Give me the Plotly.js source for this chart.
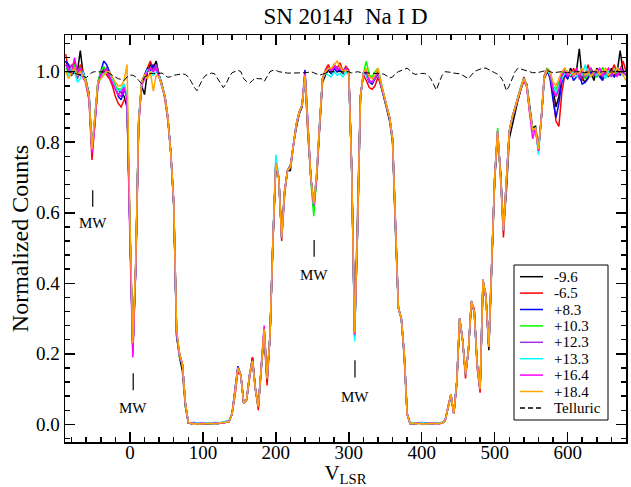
<!DOCTYPE html>
<html><head><meta charset="utf-8">
<script src="https://cdn.plot.ly/plotly-3.0.1.min.js"></script>
<style>html,body{margin:0;padding:0;background:#fff;}#chart{width:631px;height:487px;}</style>
</head><body><div id="chart"></div>
<script>
// Velocity grid (km/s, LSR)
const velocity = [-88,-84,-80,-76,-72,-68,-64,-60,-56,-52,-48,-44,-40,-36,-32,-28,-24,-20,-16,-12,-8,-4,0,4,8,12,16,20,24,28,32,36,40,44,48,52,56,60,64,68,72,76,80,84,88,92,96,100,104,108,112,116,120,124,128,132,136,140,144,148,152,156,160,164,168,172,176,180,184,188,192,196,200,204,208,212,216,220,224,228,232,236,240,244,248,252,256,260,264,268,272,276,280,284,288,292,296,300,304,308,312,316,320,324,328,332,336,340,344,348,352,356,360,364,368,372,376,380,384,388,392,396,400,404,408,412,416,420,424,428,432,436,440,444,448,452,456,460,464,468,472,476,480,484,488,492,496,500,504,508,512,516,520,524,528,532,536,540,544,548,552,556,560,564,568,572,576,580,584,588,592,596,600,604,608,612,616,620,624,628,632,636,640,644,648,652,656,660,664,668,672,676,680];

const epochs = ["-9.6","-6.5","+8.3","+10.3","+12.3","+13.3","+16.4","+18.4"];
const colors = ["#000000","#ff0000","#0000ff","#00ff00","#a030e0","#00ffff","#ff00ff","#ffa500"];

const spec_m9_6 = [1.03,1.01,0.99,1.00,1.00,1.06,0.99,0.975,0.93,0.78,0.87,0.965,0.99,1.01,1.00,0.985,0.97,0.955,0.95,0.94,0.93,0.90,
0.54,0.21,0.46,0.86,0.96,0.935,1.00,1.02,1.01,1.03,0.99,0.96,0.93,0.87,0.77,0.62,0.25,0.19,0.15,0.05,0.004,
0.003,0.005,0.002,0.004,0.001,0.003,0.002,0.004,0.003,0.005,0.004,0.006,0.008,0.010,
0.03,0.09,0.16,0.14,0.06,0.07,0.14,0.19,0.10,0.05,0.15,0.26,0.12,0.25,0.52,0.73,0.70,0.54,0.66,0.72,0.72,0.79,0.84,0.88,0.90,0.99,0.83,0.70,0.61,0.70,0.84,0.97,0.99,1.005,0.995,1.01,1.00,1.005,0.995,1.01,0.995,
0.73,0.26,0.56,0.93,0.99,0.995,0.975,0.965,0.98,0.995,0.96,0.93,0.895,0.86,0.80,0.55,0.33,0.30,0.19,0.03,
0.002,0.004,0.003,0.005,0.002,0.003,0.004,0.002,0.003,0.004,0.003,0.005,0.012,
0.05,0.08,0.03,0.12,0.30,0.24,0.14,0.21,0.34,0.32,0.17,0.10,0.40,0.36,0.21,0.46,0.69,0.82,0.72,0.56,0.66,0.81,0.85,0.88,0.92,0.95,0.975,0.965,0.90,0.84,0.845,0.78,0.87,0.98,1.00,
0.99,0.95,0.90,0.93,0.99,1.00,0.98,1.01,0.99,1.00,1.065,0.98,0.97,0.985,1.00,0.975,1.01,0.99,0.98,1.00,0.985,1.01,0.99,1.00,1.06,1.00,0.99];

const spec_m6_5 = [1.05,1.00,1.01,1.03,0.98,1.02,1.00,0.96,0.92,0.75,0.85,0.96,1.00,1.01,0.99,0.98,0.96,0.93,0.91,0.90,0.92,0.92,
0.56,0.22,0.44,0.85,0.97,0.99,1.01,1.03,1.005,1.02,0.99,0.965,0.92,0.86,0.77,0.63,0.26,0.20,0.17,0.06,0.005,
0.002,0.003,0.004,0.002,0.003,0.001,0.002,0.003,0.002,0.004,0.003,0.005,0.006,0.009,
0.03,0.08,0.15,0.14,0.06,0.07,0.13,0.19,0.10,0.04,0.16,0.26,0.11,0.25,0.51,0.74,0.70,0.52,0.65,0.72,0.73,0.79,0.85,0.885,0.905,0.985,0.82,0.70,0.62,0.70,0.85,0.98,1.005,1.02,1.00,1.02,1.01,1.025,1.00,1.015,1.005,
0.72,0.26,0.55,0.93,0.99,0.975,0.955,0.95,0.96,0.985,0.96,0.935,0.90,0.87,0.81,0.56,0.33,0.30,0.20,0.03,
0.003,0.002,0.004,0.003,0.006,0.002,0.003,0.002,0.004,0.003,0.002,0.004,0.010,
0.05,0.085,0.03,0.11,0.29,0.24,0.13,0.21,0.34,0.33,0.16,0.09,0.40,0.37,0.22,0.46,0.70,0.82,0.71,0.53,0.67,0.83,0.87,0.90,0.92,0.955,0.985,0.96,0.885,0.84,0.835,0.78,0.87,0.99,1.01,
0.98,0.93,0.86,0.845,0.94,0.99,1.00,0.985,1.01,0.99,1.00,0.975,0.99,1.02,0.99,1.00,0.985,1.00,1.01,0.99,0.995,1.00,1.02,0.99,1.005,1.03,1.00];

const spec_p8_3 = [1.03,1.02,1.00,1.01,1.00,0.99,1.00,0.97,0.94,0.78,0.86,0.97,1.00,1.03,1.02,1.00,0.98,0.96,0.93,0.92,0.95,0.93,
0.55,0.21,0.45,0.86,0.97,0.99,1.01,1.00,1.02,1.005,0.99,0.96,0.93,0.87,0.77,0.63,0.25,0.20,0.17,0.06,0.004,
0.002,0.004,0.003,0.002,0.003,0.002,0.004,0.002,0.003,0.002,0.004,0.003,0.007,0.008,
0.03,0.09,0.165,0.14,0.06,0.07,0.14,0.18,0.10,0.05,0.16,0.27,0.13,0.25,0.52,0.745,0.70,0.53,0.66,0.72,0.735,0.79,0.85,0.885,0.905,1.005,0.83,0.70,0.62,0.71,0.85,0.98,1.00,1.01,0.995,1.01,1.00,1.005,1.00,1.01,0.995,
0.72,0.25,0.55,0.93,0.995,0.99,0.97,0.965,0.985,1.00,0.965,0.935,0.90,0.87,0.81,0.56,0.33,0.30,0.20,0.03,
0.002,0.003,0.002,0.004,0.003,0.002,0.003,0.004,0.002,0.003,0.004,0.003,0.010,
0.05,0.085,0.03,0.12,0.30,0.24,0.14,0.21,0.35,0.32,0.17,0.10,0.41,0.36,0.22,0.47,0.70,0.83,0.71,0.55,0.68,0.83,0.87,0.90,0.925,0.955,0.98,0.96,0.89,0.835,0.84,0.775,0.87,0.985,1.005,
0.98,0.92,0.87,0.91,0.97,0.99,0.98,1.00,0.975,0.985,0.99,0.965,0.97,0.98,1.00,0.99,1.00,0.985,0.975,1.00,0.99,0.995,0.985,1.00,0.99,1.005,0.99];

const spec_p10_3 = [1.01,1.00,0.99,1.02,1.00,1.01,0.99,0.975,0.93,0.78,0.87,0.97,1.00,1.015,1.00,0.99,0.98,0.96,0.95,0.95,0.965,0.93,
0.55,0.21,0.45,0.86,0.965,0.985,1.005,1.01,1.00,1.01,0.99,0.96,0.93,0.87,0.77,0.63,0.26,0.19,0.17,0.06,0.005,
0.003,0.002,0.003,0.001,0.002,0.003,0.002,0.001,0.003,0.002,0.003,0.004,0.006,0.008,
0.03,0.09,0.16,0.14,0.06,0.07,0.14,0.18,0.10,0.05,0.16,0.27,0.13,0.25,0.52,0.74,0.70,0.53,0.66,0.72,0.73,0.79,0.85,0.885,0.905,0.99,0.83,0.69,0.59,0.70,0.85,0.98,1.00,1.01,1.00,1.015,1.005,1.01,1.00,1.01,1.00,
0.72,0.25,0.55,0.93,0.995,1.03,0.99,0.985,1.00,1.01,0.97,0.935,0.90,0.87,0.81,0.56,0.33,0.30,0.20,0.03,
0.002,0.002,0.003,0.002,0.003,0.002,0.002,0.003,0.002,0.002,0.003,0.004,0.009,
0.05,0.085,0.03,0.12,0.30,0.24,0.14,0.21,0.35,0.32,0.17,0.10,0.41,0.36,0.22,0.47,0.70,0.84,0.71,0.55,0.68,0.83,0.87,0.90,0.93,0.96,0.98,0.96,0.89,0.835,0.84,0.775,0.87,0.985,1.01,
1.00,0.96,0.95,0.97,0.99,1.01,0.99,1.00,0.985,1.00,0.99,1.00,0.98,0.99,1.01,0.995,0.985,1.00,1.01,0.99,1.00,0.99,1.005,0.995,1.00,0.99,1.00];

const spec_p12_3 = [1.02,1.00,1.02,1.00,0.98,1.01,0.99,0.97,0.93,0.77,0.86,0.96,0.99,1.00,1.01,0.99,0.97,0.95,0.935,0.945,0.96,0.93,
0.55,0.20,0.45,0.86,0.96,0.985,1.00,1.01,1.005,1.02,0.99,0.955,0.93,0.87,0.77,0.63,0.26,0.195,0.17,0.06,0.005,
0.002,0.003,0.002,0.003,0.002,0.001,0.003,0.002,0.003,0.002,0.003,0.004,0.005,0.008,
0.03,0.09,0.16,0.14,0.06,0.07,0.14,0.18,0.10,0.05,0.16,0.27,0.13,0.25,0.52,0.74,0.70,0.53,0.66,0.72,0.73,0.79,0.85,0.885,0.905,0.995,0.83,0.70,0.62,0.71,0.85,0.98,1.00,1.01,1.00,1.02,1.01,1.01,1.00,1.01,1.00,
0.72,0.25,0.55,0.93,0.995,1.00,0.97,0.97,0.98,1.00,0.965,0.935,0.90,0.87,0.81,0.56,0.33,0.30,0.20,0.03,
0.003,0.002,0.003,0.002,0.003,0.004,0.002,0.003,0.002,0.003,0.002,0.004,0.010,
0.05,0.085,0.03,0.12,0.30,0.24,0.14,0.21,0.35,0.32,0.17,0.10,0.41,0.36,0.22,0.47,0.70,0.83,0.71,0.55,0.68,0.83,0.87,0.90,0.925,0.955,0.975,0.96,0.89,0.83,0.84,0.775,0.87,0.985,1.005,
0.99,0.95,0.93,0.96,0.99,1.00,0.985,1.00,0.99,1.00,0.98,0.99,0.985,1.00,0.99,1.00,0.99,1.00,0.985,0.995,1.00,0.985,1.00,0.99,1.00,0.995,1.00];

const spec_p13_3 = [1.00,0.99,1.01,1.00,0.97,0.98,1.00,0.96,0.93,0.78,0.86,0.965,0.98,0.995,1.00,0.99,0.975,0.955,0.945,0.95,0.965,0.93,
0.55,0.21,0.45,0.86,0.965,0.985,1.005,1.00,0.99,1.00,0.99,0.96,0.93,0.87,0.765,0.63,0.26,0.195,0.17,0.06,0.005,
0.004,0.006,0.003,0.005,0.004,0.003,0.005,0.004,0.006,0.004,0.005,0.006,0.008,0.010,
0.03,0.09,0.16,0.14,0.06,0.07,0.14,0.18,0.10,0.05,0.16,0.27,0.13,0.25,0.52,0.765,0.70,0.53,0.66,0.72,0.73,0.79,0.85,0.885,0.905,0.99,0.83,0.70,0.62,0.71,0.85,0.98,0.995,0.99,0.985,1.00,0.99,0.995,0.985,1.00,0.99,
0.72,0.235,0.55,0.93,0.995,0.99,0.975,0.97,0.985,1.00,0.965,0.935,0.90,0.87,0.81,0.56,0.33,0.30,0.20,0.03,
0.004,0.005,0.003,0.004,0.005,0.003,0.004,0.005,0.004,0.003,0.005,0.006,0.012,
0.05,0.085,0.03,0.12,0.30,0.24,0.14,0.21,0.35,0.32,0.17,0.10,0.41,0.36,0.22,0.47,0.70,0.83,0.71,0.55,0.68,0.83,0.87,0.90,0.925,0.955,0.98,0.96,0.89,0.835,0.84,0.765,0.87,0.985,1.005,
0.99,0.96,0.94,0.96,0.98,0.995,1.00,0.99,1.00,0.985,1.00,0.99,1.02,0.995,0.985,1.00,0.99,1.00,0.995,0.98,1.00,0.99,1.00,1.01,1.00,0.99,1.00];

const spec_p16_4 = [1.02,1.01,0.99,1.04,1.00,1.01,0.98,0.97,0.92,0.77,0.85,0.96,0.99,1.00,1.005,0.985,0.97,0.95,0.935,0.93,0.955,0.92,
0.52,0.19,0.44,0.85,0.96,0.98,1.00,1.01,1.00,1.01,0.985,0.96,0.93,0.87,0.77,0.63,0.26,0.195,0.17,0.06,0.005,
0.003,0.004,0.002,0.003,0.004,0.002,0.003,0.002,0.004,0.003,0.002,0.003,0.006,0.009,
0.03,0.09,0.16,0.14,0.06,0.07,0.14,0.18,0.10,0.05,0.17,0.28,0.13,0.25,0.52,0.74,0.70,0.53,0.66,0.72,0.73,0.79,0.85,0.885,0.905,0.995,0.83,0.70,0.62,0.70,0.85,0.98,1.00,1.01,1.00,1.015,1.005,1.01,1.00,1.01,1.00,
0.72,0.255,0.55,0.93,0.995,1.00,0.975,0.97,0.985,1.00,0.965,0.935,0.90,0.87,0.81,0.56,0.33,0.30,0.20,0.03,
0.003,0.002,0.003,0.004,0.002,0.003,0.002,0.003,0.004,0.002,0.003,0.004,0.011,
0.05,0.085,0.03,0.12,0.30,0.24,0.14,0.21,0.35,0.32,0.17,0.10,0.41,0.36,0.22,0.47,0.70,0.83,0.71,0.55,0.68,0.83,0.87,0.90,0.925,0.955,0.975,0.955,0.88,0.81,0.84,0.775,0.87,0.985,1.005,
1.00,0.95,0.93,0.95,0.99,1.00,0.99,1.00,0.985,1.01,0.99,1.00,0.99,1.00,1.01,0.99,1.00,1.01,0.99,1.00,1.01,0.99,1.00,0.985,1.01,1.00,0.99];

const spec_p18_4 = [1.00,0.98,1.00,1.01,0.99,1.00,0.985,0.97,0.93,0.78,0.87,0.97,0.98,0.99,1.00,1.00,0.985,0.97,0.96,0.96,0.975,1.02,
0.58,0.23,0.46,0.86,0.97,0.99,0.98,1.00,0.945,0.99,0.985,0.96,0.93,0.87,0.77,0.635,0.27,0.20,0.17,0.06,0.006,
0.002,0.003,0.002,0.001,0.002,0.003,0.002,0.003,0.002,0.003,0.002,0.004,0.006,0.008,
0.03,0.09,0.16,0.14,0.06,0.07,0.14,0.18,0.10,0.05,0.16,0.27,0.13,0.25,0.52,0.74,0.70,0.53,0.66,0.72,0.73,0.79,0.85,0.885,0.905,0.99,0.83,0.70,0.625,0.71,0.85,0.98,1.00,1.01,1.01,1.02,1.03,1.015,1.00,1.005,1.00,
0.72,0.26,0.56,0.93,0.995,1.01,0.985,0.98,0.99,1.01,0.97,0.935,0.90,0.87,0.81,0.56,0.33,0.30,0.20,0.03,
0.002,0.003,0.002,0.003,0.002,0.002,0.003,0.002,0.003,0.002,0.003,0.004,0.010,
0.05,0.085,0.03,0.12,0.30,0.24,0.14,0.21,0.35,0.32,0.17,0.10,0.41,0.36,0.22,0.47,0.70,0.83,0.71,0.55,0.68,0.83,0.87,0.90,0.925,0.955,0.98,0.96,0.89,0.835,0.84,0.78,0.87,0.985,1.005,
1.00,0.97,0.96,0.98,1.00,1.01,0.995,1.00,0.99,1.00,0.995,1.01,0.99,1.00,0.985,1.00,1.005,0.99,1.00,1.01,0.99,1.00,0.995,1.01,1.00,0.99,0.975];

const telluric = [1.000,1.000,0.998,0.996,0.994,0.990,0.987,0.983,0.990,0.998,1.000,1.000,1.000,0.998,0.999,0.995,0.990,0.985,0.980,0.978,0.975,0.985,
0.990,0.990,0.985,0.975,0.967,0.985,0.990,0.995,0.995,0.996,0.997,0.996,0.990,0.984,0.986,0.990,0.991,0.993,0.994,0.992,0.985,
0.972,0.956,0.946,0.965,0.980,0.990,0.993,0.996,0.994,0.980,0.968,0.955,0.966,0.985,
0.997,1.000,1.004,1.000,0.980,0.972,0.967,0.975,0.982,0.980,0.980,0.972,0.986,1.000,1.004,1.004,1.000,0.998,0.997,0.996,0.996,0.996,0.995,0.995,0.996,0.997,0.998,1.000,0.997,0.993,0.990,0.993,0.996,0.998,1.000,1.000,0.999,1.000,1.000,0.999,1.000,
0.996,0.998,1.000,0.998,0.997,0.996,0.997,0.996,0.995,0.995,0.995,0.993,0.988,0.982,0.985,0.995,1.000,1.004,1.008,1.010,
1.003,0.995,0.992,0.995,0.995,0.995,0.990,0.982,0.965,0.948,0.970,0.990,1.000,
1.000,0.998,0.996,0.995,0.994,0.990,0.985,0.980,0.990,1.000,1.004,1.007,1.010,1.010,1.005,1.000,0.997,0.993,0.985,0.972,0.946,0.960,0.980,1.000,1.010,1.008,1.005,1.003,1.000,0.997,0.997,0.998,1.000,1.003,1.004,
1.000,0.997,0.998,1.000,1.000,0.998,0.997,0.999,1.000,1.001,1.000,0.998,0.997,0.999,1.000,1.000,0.999,0.998,1.000,1.001,1.000,0.999,1.000,1.000,0.999,1.000,1.000];

const spectra = [spec_m9_6, spec_m6_5, spec_p8_3, spec_p10_3, spec_p12_3, spec_p13_3, spec_p16_4, spec_p18_4];

// MW component labels: velocity of the marker and y of tick/label
const mwVel = [-51, 4.5, 252.5, 308.5];
const mwTickTop = [0.664, 0.145, 0.523, 0.182];
const mwTickBot = [0.617, 0.097, 0.475, 0.133];
const mwLabelY = [0.571, 0.046, 0.423, 0.078];

const serif = 'Liberation Serif, Times New Roman, serif';

const traces = spectra.map((ys, i) => ({
  type: 'scatter', mode: 'lines', x: velocity, y: ys, name: epochs[i],
  line: {color: colors[i], width: 1.5}, showlegend: false, hoverinfo: 'skip'
}));
traces.push({
  type: 'scatter', mode: 'lines', x: velocity, y: telluric, name: 'Telluric',
  line: {color: '#000000', width: 1, dash: '6px,3px'}, showlegend: false, hoverinfo: 'skip'
});

const shapes = [];
const annotations = [];
mwVel.forEach((v, i) => {
  shapes.push({type: 'line', xref: 'x', yref: 'y', x0: v, x1: v, y0: mwTickBot[i], y1: mwTickTop[i],
    line: {color: '#000', width: 1.2}});
  annotations.push({xref: 'x', yref: 'y', x: v, y: mwLabelY[i], text: 'MW', showarrow: false,
    xanchor: 'center', yanchor: 'middle', font: {family: serif, size: 15, color: '#000'}});
});

// Legend box (paper coordinates of plot area)
const legNames = epochs.concat(['Telluric']);
const legColors = colors.concat(['#000000']);
const plotL = 65, plotW = 561, plotT = 35, plotH = 407;
const px2x = p => (p - plotL) / plotW;
const px2y = p => (plotT + plotH - p) / plotH;
shapes.push({type: 'rect', xref: 'paper', yref: 'paper', x0: px2x(514), x1: px2x(608), y0: px2y(420), y1: px2y(265),
  line: {color: '#000', width: 1}, fillcolor: '#ffffff', layer: 'above'});
legNames.forEach((nm, i) => {
  const yy = px2y(276.7 + 16.4 * i);
  shapes.push({type: 'line', xref: 'paper', yref: 'paper', x0: px2x(520), x1: px2x(543), y0: yy, y1: yy,
    line: {color: legColors[i], width: 1.5, dash: i === legNames.length - 1 ? '5px,3px' : 'solid'}});
  annotations.push({xref: 'paper', yref: 'paper', x: px2x(552), y: yy, text: nm, showarrow: false,
    xanchor: 'left', yanchor: 'middle', font: {family: serif, size: 15, color: '#000'}});
});

const axisCommon = {
  showline: true, linecolor: '#000', linewidth: 1.5, mirror: 'allticks',
  ticks: 'inside', ticklen: 10, tickwidth: 1.5, tickcolor: '#000',
  showgrid: false, zeroline: false,
  tickfont: {family: serif, size: 19, color: '#000'}
};

const layout = {
  width: 631, height: 487,
  margin: {l: 65, r: 5, t: 35, b: 45},
  paper_bgcolor: '#fff', plot_bgcolor: '#fff',
  title: {text: 'SN 2014J  Na I D', font: {family: serif, size: 23, color: '#000'},
    x: 0.5, xref: 'paper', y: 1 - 16 / 487, yref: 'container', yanchor: 'middle'},
  xaxis: Object.assign({}, axisCommon, {
    range: [-89, 680], tick0: 0, dtick: 100, ticklabelstandoff: -7,
    minor: {dtick: 20, ticks: 'inside', ticklen: 5, tickwidth: 1.5, tickcolor: '#000', showgrid: false},
    title: {text: 'V<sub>LSR</sub>', font: {family: serif, size: 21, color: '#000'}, standoff: 0}
  }),
  yaxis: Object.assign({}, axisCommon, {
    range: [-0.05, 1.104], tick0: 0, dtick: 0.2, tickformat: '.1f',
    minor: {dtick: 0.04, ticks: 'inside', ticklen: 5, tickwidth: 1.5, tickcolor: '#000', showgrid: false},
    title: {text: 'Normalized Counts', font: {family: serif, size: 24, color: '#000'}, standoff: 0}
  }),
  shapes: shapes,
  annotations: annotations,
  showlegend: false
};

Plotly.newPlot('chart', traces, layout, {displayModeBar: false, staticPlot: true});
</script>
</body></html>
